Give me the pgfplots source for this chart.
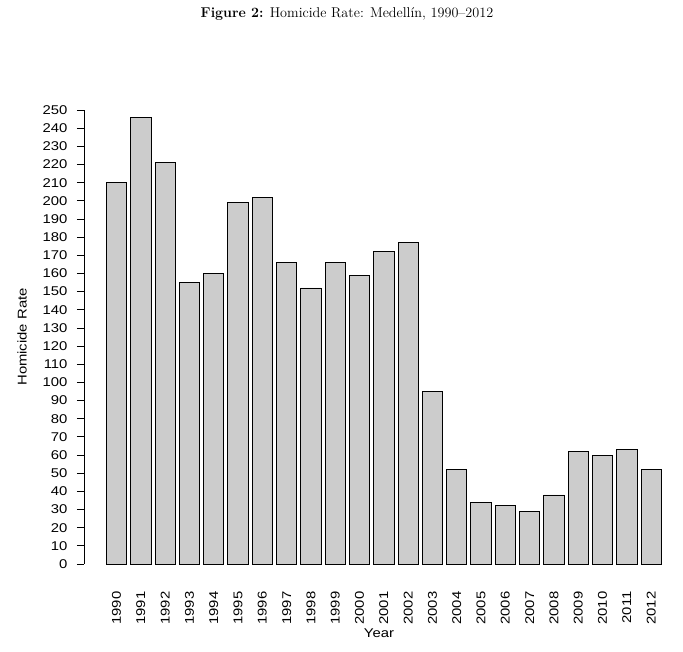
\documentclass[border=0pt]{standalone}
\usepackage{fontspec}
\usepackage{pgfplots}
\pgfplotsset{compat=1.18}
\newfontfamily\rsans[FakeStretch=1.17]{Liberation Sans}
\newcommand{\rfont}{\rsans\fontsize{12.7}{15}\selectfont}
\pgfplotstableread{
x val
0 210
1 246
2 221
3 155
4 160
5 199
6 202
7 166
8 152
9 166
10 159
11 172
12 177
13 95
14 52
15 34
16 32
17 29
18 38
19 62
20 60
21 63
22 52
}\homtable
\begin{document}
\begin{tikzpicture}
\useasboundingbox (0pt,0pt) rectangle (683pt,-652pt);
\node[font=\fontsize{14.2}{17}\selectfont] at (347pt,-14pt) {\textbf{Figure 2:} Homicide Rate: Medellín, 1990--2012};
\begin{axis}[
  at={(84pt,-564pt)}, anchor=south west,
  scale only axis,
  width=589pt, height=454pt,
  xmin=-1.34, xmax=22.9,
  ymin=0, ymax=250,
  axis y line*=left,
  axis x line*=bottom,
  x axis line style={draw=none},
  y axis line style={line width=0.8pt, -},
  xtick=data,
  xticklabels={1990,1991,1992,1993,1994,1995,1996,1997,1998,1999,2000,2001,2002,2003,2004,2005,2006,2007,2008,2009,2010,2011,2012},
  xtick style={draw=none},
  ytick={0,10,...,250},
  ytick style={line width=0.8pt, black},
  tick align=outside,
  major tick length=7pt,
  yticklabel style={font=\rfont, anchor=east, xshift=-6pt},
  xticklabel style={font=\rfont, rotate=90, anchor=east},
  xticklabel shift=17pt,
  /pgf/number format/assume math mode=true,
  ylabel={Homicide Rate},
  xlabel={Year},
  every axis y label/.style={at={(axis description cs:-0.1053,0.5)}, rotate=90, anchor=center, font=\rfont},
  every axis x label/.style={at={(axis description cs:0.5008,-0.152)}, anchor=center, font=\rfont},
  clip=false,
]
\addplot[ybar, bar width=0.8333, fill=black!20, draw=black, line width=0.9pt] table[x=x, y=val] {\homtable};
\end{axis}
\end{tikzpicture}
\end{document}
